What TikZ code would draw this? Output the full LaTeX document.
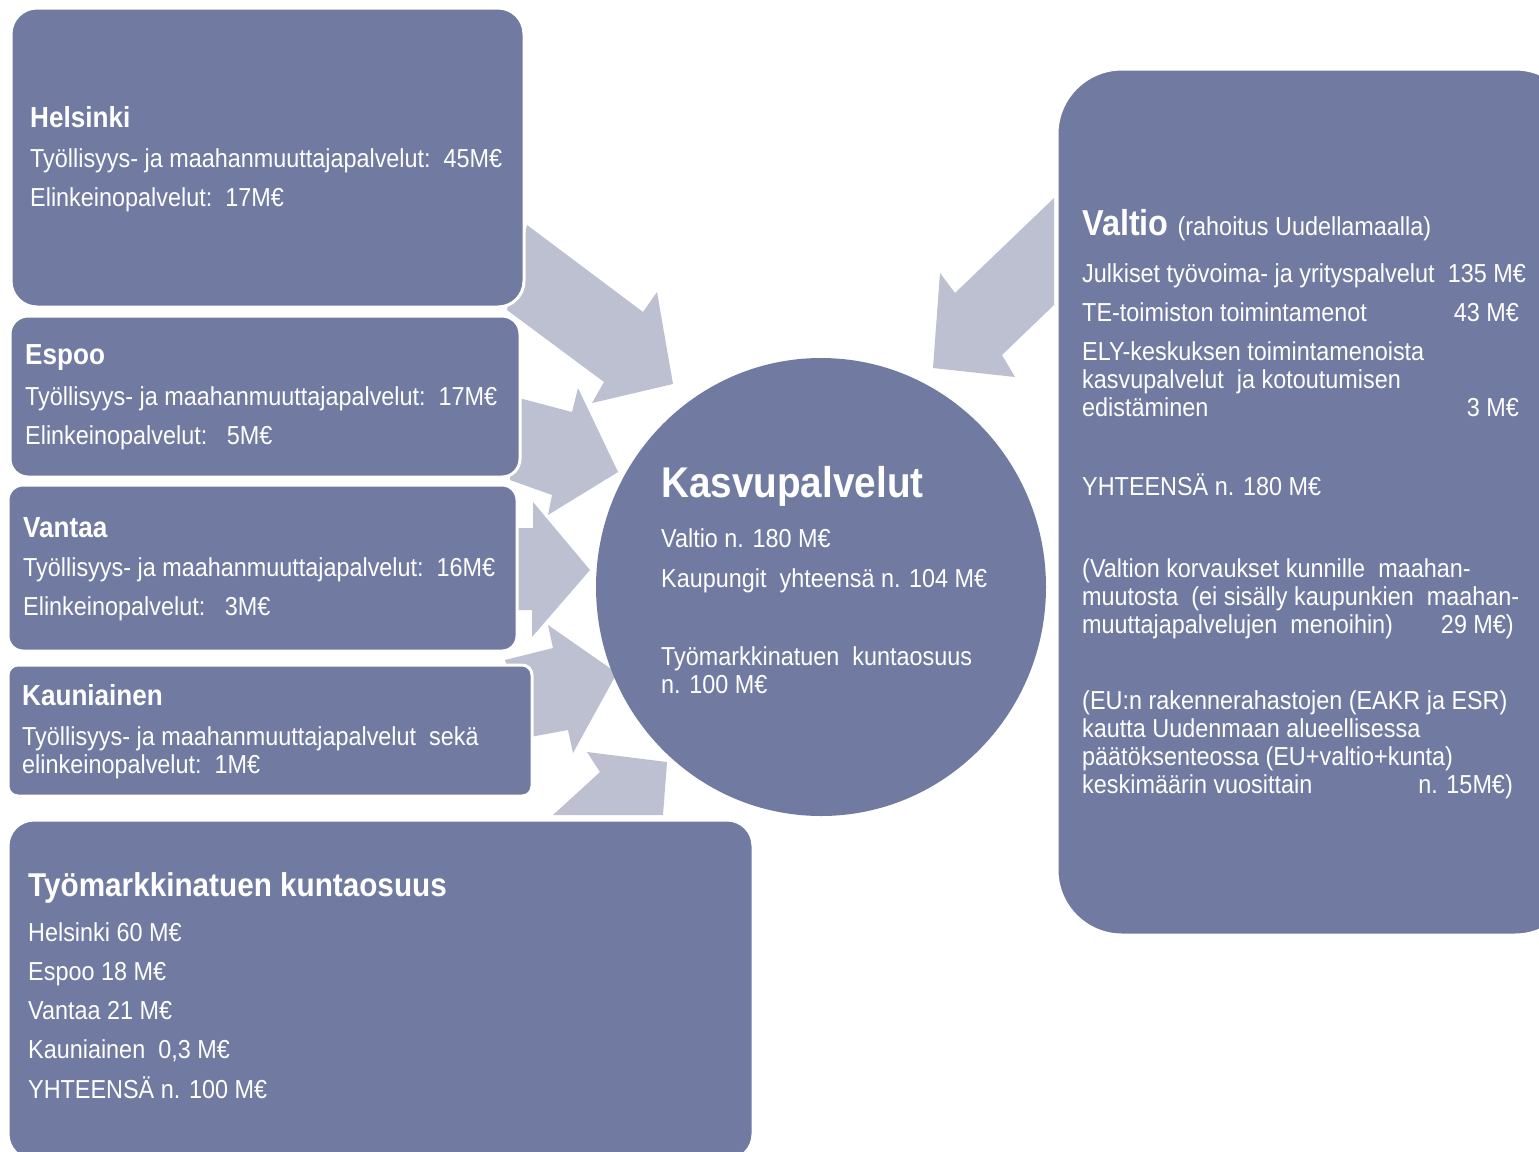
\documentclass[tikz,border=0pt]{standalone}
\usepackage{fontspec}
\setmainfont{Liberation Sans}[FakeStretch=0.9]
\definecolor{boxc}{RGB}{113,123,161}
\definecolor{arrc}{RGB}{188,192,208}
\begin{document}
\begin{tikzpicture}[x=1pt,y=-1pt,
  box/.style={fill=boxc, draw=white, line width=3pt},
  arr/.style={fill=arrc},
  txt/.style={anchor=base west, text=white, inner sep=0pt, font=\fontsize{26}{28}\selectfont},
  val/.style={anchor=base east, text=white, inner sep=0pt, font=\fontsize{26}{28}\selectfont},
  hd/.style={txt, font=\bfseries\fontsize{29}{31}\selectfont}]
\clip (0,0) rectangle (1539,1151);
\fill[white] (0,0) rectangle (1539,1151);
% block arrows
\fill[arr] (527,225) -- (643,312) -- (657,292) -- (673,384) -- (592,403) -- (604,382) -- (507,310) -- cycle;
\fill[arr] (515,397) -- (572,412) -- (578,388) -- (618,472) -- (548,515) -- (552,495) -- (510,480) -- cycle;
\fill[arr] (510,528) -- (533,528) -- (533,502) -- (590,570) -- (532,637) -- (532,610) -- (510,610) -- cycle;
\fill[arr] (505,660) -- (553,648) -- (548,625) -- (617,673) -- (573,753) -- (568,730) -- (530,737) -- cycle;
\fill[arr] (587,752) -- (667,762) -- (663,815) -- (553,815) -- (600,772) -- cycle;
\fill[arr] (1054,198) -- (1054,305) -- (1002,355) -- (1015,377) -- (933,368) -- (940,273) -- (955,293) -- cycle;
% boxes
\draw[box, rounded corners=26] (11,8) rectangle (524,307);
\draw[box, rounded corners=18] (10,316) rectangle (520,477);
\draw[box, rounded corners=15] (8,485) rectangle (517,651);
\draw[box, rounded corners=10] (8,665) rectangle (532,796);
\draw[box, rounded corners=26] (8,820) rectangle (753,1160);
\draw[box, rounded corners=65] (1057,69) rectangle (1580,935);
\fill[boxc] (821,587) ellipse [x radius=225, y radius=229];
% Helsinki
\node[hd] (h1) at (30,127) {Helsinki};
\node[txt] (h2) at (30,167) {Työllisyys- ja maahanmuuttajapalvelut:\ \ 45M€};
\node[txt] (h3) at (30,206) {Elinkeinopalvelut:\ \ 17M€};
% Espoo
\node[hd] (e1) at (25,364) {Espoo};
\node[txt] (e2) at (25,405) {Työllisyys- ja maahanmuuttajapalvelut:\ \ 17M€};
\node[txt] (e3) at (25,444) {Elinkeinopalvelut:\ \ \ 5M€};
% Vantaa
\node[hd] (v1) at (23,537) {Vantaa};
\node[txt] (v2) at (23,576) {Työllisyys- ja maahanmuuttajapalvelut:\ \ 16M€};
\node[txt] (v3) at (23,615) {Elinkeinopalvelut:\ \ \ 3M€};
% Kauniainen
\node[hd] (k1) at (22,705) {Kauniainen};
\node[txt] (k2) at (22,745) {Työllisyys- ja maahanmuuttajapalvelut\ \ sekä};
\node[txt] (k3) at (22,773) {elinkeinopalvelut:\ \ 1M€};
% Tyomarkkinatuen kuntaosuus
\node[txt, font=\bfseries\fontsize{33}{35}\selectfont] (t1) at (28,896) {Työmarkkinatuen kuntaosuus};
\node[txt] (t2) at (28,941) {Helsinki 60 M€};
\node[txt] (t3) at (28,980) {Espoo 18 M€};
\node[txt] (t4) at (28,1019) {Vantaa 21 M€};
\node[txt] (t5) at (28,1058) {Kauniainen\ \ 0,3 M€};
\node[txt] (t6) at (28,1098) {YHTEENSÄ n. 100 M€};
% circle
\node[txt, font=\bfseries\fontsize{43}{45}\selectfont] (c1) at (661,497) {Kasvupalvelut};
\node[txt] (c2) at (661,547) {Valtio n. 180 M€};
\node[txt] (c3) at (661,587) {Kaupungit\ \ yhteensä n. 104 M€};
\node[txt] (c4) at (661,665) {Työmarkkinatuen\ \ kuntaosuus};
\node[txt] (c5) at (661,693) {n. 100 M€};
% Valtio
\node[txt] (r0) at (1082,235) {\fontsize{36}{38}\selectfont\bfseries Valtio\ \fontsize{26}{28}\selectfont\mdseries (rahoitus Uudellamaalla)};
\node[txt] (r1) at (1082,282) {Julkiset työvoima- ja yrityspalvelut};
\node[val] (r1v) at (1526,282) {135 M€};
\node[txt] (r2) at (1082,321) {TE-toimiston toimintamenot};
\node[val] (r2v) at (1519,321) {43 M€};
\node[txt] (r3) at (1082,360) {ELY-keskuksen toimintamenoista};
\node[txt] (r4) at (1082,388) {kasvupalvelut\ \ ja kotoutumisen};
\node[txt] (r5) at (1082,416) {edistäminen};
\node[val] (r5v) at (1519,416) {3 M€};
\node[txt] (r6) at (1082,495) {YHTEENSÄ n. 180 M€};
\node[txt] (r7) at (1082,577) {(Valtion korvaukset kunnille\ \ maahan-};
\node[txt] (r8) at (1082,605) {muutosta\ \ (ei sisälly kaupunkien\ \ maahan-};
\node[txt] (r9) at (1082,633) {muuttajapalvelujen\ \ menoihin)};
\node[val] (r9v) at (1514,633) {29 M€)};
\node[txt] (r10) at (1082,709) {(EU:n rakennerahastojen (EAKR ja ESR)};
\node[txt] (r11) at (1082,737) {kautta Uudenmaan alueellisessa};
\node[txt] (r12) at (1082,765) {päätöksenteossa (EU+valtio+kunta)};
\node[txt] (r13) at (1082,793) {keskimäärin vuosittain};
\node[val] (r13v) at (1513,793) {n. 15M€)};
\end{tikzpicture}
\end{document}
